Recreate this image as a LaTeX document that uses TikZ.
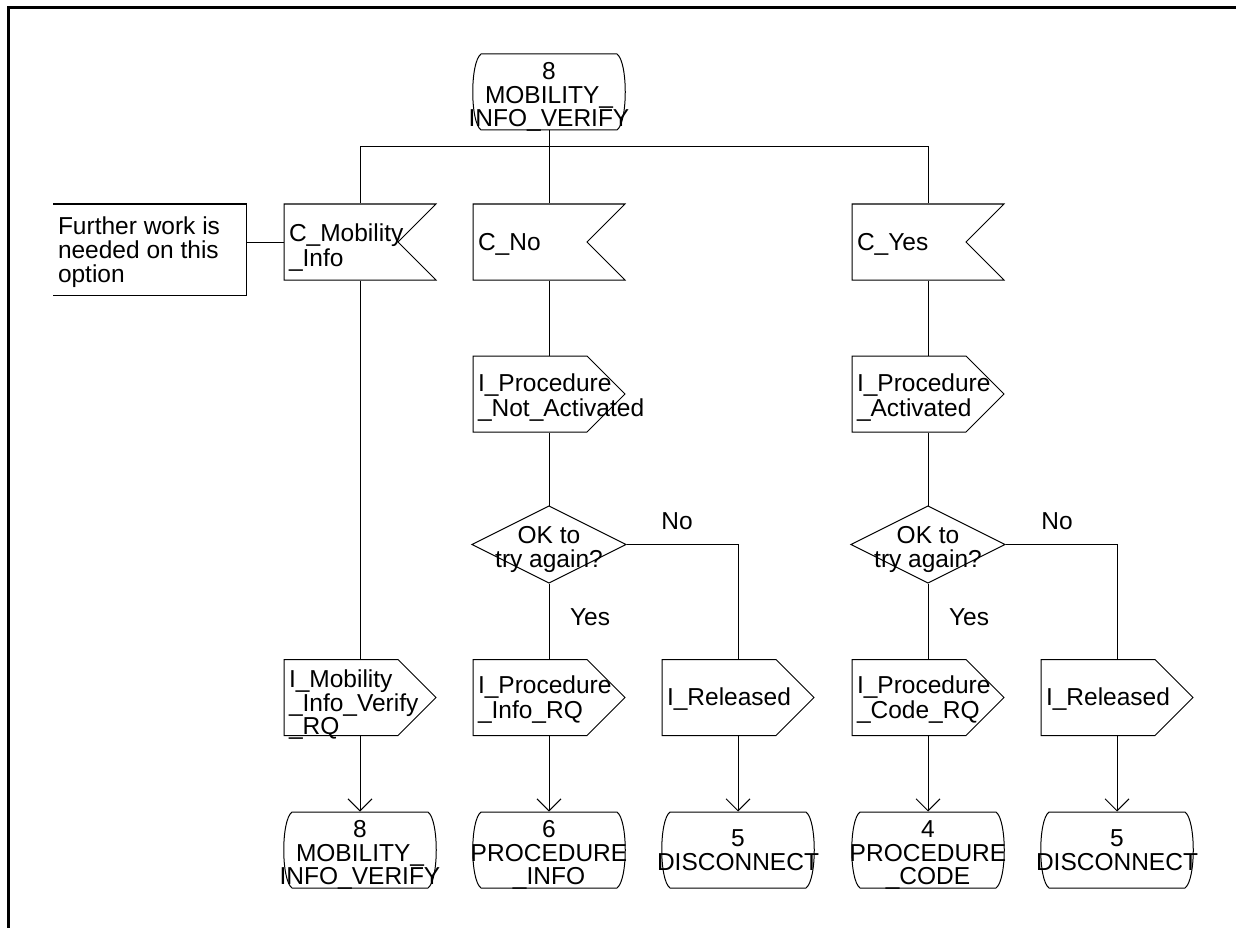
\documentclass[tikz,border=0pt]{standalone}
\usepackage{fontspec}
\setmainfont{Liberation Sans}
\usetikzlibrary{arrows.meta}

% SDL symbol outlines, drawn around a named node's centre
\newcommand\sdlstate[1]{\draw[shift={(#1.center)}] (-68,-38) -- (68,-38)
  .. controls (79,-30) and (79,30) .. (68,38) -- (-68,38)
  .. controls (-79,30) and (-79,-30) .. (-68,-38) -- cycle;}
\newcommand\sdlinput[1]{\draw[shift={(#1.center)}] (-76,-38) -- (76,-38) -- (38,0) -- (76,38) -- (-76,38) -- cycle;}
\newcommand\sdloutput[1]{\draw[shift={(#1.center)}] (-76,-38) -- (38,-38) -- (76,0) -- (38,38) -- (-76,38) -- cycle;}
\newcommand\sdldecision[1]{\draw[shift={(#1.center)}] (0,-38.5) -- (77,0) -- (0,38.5) -- (-77,0) -- cycle;}
\newcommand\sdlcomment[1]{\draw[shift={(#1.center)}] (-96.5,-45.5) -- (96.5,-45.5) -- (96.5,45.5) -- (-96.5,45.5);}

% symbol text: alignment (l/c), box width, downward offset, lines
\newcommand\sdltext[4]{\raisebox{-#3pt}[0pt][0pt]{\makebox[#2pt][#1]{\begin{tabular}{@{}#1@{}}#4\end{tabular}}}}

\begin{document}
\begin{tikzpicture}[x=1pt,y=-1pt,line width=1pt,
  font=\fontsize{24.5}{21}\selectfont,
  lbl/.style={inner ysep=0pt,inner xsep=5pt,minimum width=152pt,minimum height=76pt},
  ctr/.style={inner sep=0pt,minimum width=152pt,minimum height=76pt},
  dec/.style={inner sep=0pt,minimum width=154pt,minimum height=77pt},
  tag/.style={inner sep=0pt},
  arr/.style={-{Straight Barb[length=12pt,width=24pt]}}]
\useasboundingbox (0,0) rectangle (1236,928);

% page frame
\draw[line width=3pt] (8,935) -- (8,8) -- (1245,8);

% start state and branch
\node[ctr] (s0) at (549,92) {\sdltext{c}{152}{12}{8\\MOBILITY\_\\INFO\_VERIFY}};
\coordinate (br) at (549,147);

% inputs
\node[lbl] (in1) at (360,242) {\sdltext{l}{142}{12.5}{C\_Mobility\\\_Info}};
\node[lbl] (in2) at (549,242) {\sdltext{l}{142}{9}{C\_No}};
\node[lbl] (in3) at (928,242) {\sdltext{l}{142}{9}{C\_Yes}};
\node[lbl,minimum width=193pt,minimum height=91pt] (note) at (149.5,249.5)
  {\sdltext{l}{183}{9.5}{Further work is\\needed on this\\option}};

% first outputs
\node[lbl] (p2) at (549,394) {\sdltext{l}{142}{10.5}{I\_Procedure\\\_Not\_Activated}};
\node[lbl] (p3) at (928,394) {\sdltext{l}{142}{10.5}{I\_Procedure\\\_Activated}};

% decisions
\node[dec] (d2) at (549,544.5) {\sdltext{c}{154}{12}{OK to\\try again?}};
\node[dec] (d3) at (928,544.5) {\sdltext{c}{154}{12}{OK to\\try again?}};
\node[tag] (no2) at (677,521) {No};
\node[tag] (yes2) at (590,617) {Yes};
\node[tag] (no3) at (1057,521) {No};
\node[tag] (yes3) at (969,617) {Yes};

% second outputs
\node[lbl] (o1) at (360,697.5) {\sdltext{l}{142}{14}{I\_Mobility\\\_Info\_Verify\\\_RQ}};
\node[lbl] (o2) at (549,697.5) {\sdltext{l}{142}{9}{I\_Procedure\\\_Info\_RQ}};
\node[lbl] (o4) at (738,697.5) {\sdltext{l}{142}{8}{I\_Released}};
\node[lbl] (o3) at (928,697.5) {\sdltext{l}{142}{9}{I\_Procedure\\\_Code\_RQ}};
\node[lbl] (o5) at (1117,697.5) {\sdltext{l}{142}{8}{I\_Released}};

% next states
\node[ctr] (t1) at (360,850) {\sdltext{c}{152}{12}{8\\MOBILITY\_\\INFO\_VERIFY}};
\node[ctr] (t2) at (549,850) {\sdltext{c}{152}{12}{6\\PROCEDURE\\\_INFO}};
\node[ctr] (t4) at (738,850) {\sdltext{c}{152}{9.5}{5\\DISCONNECT}};
\node[ctr] (t3) at (928,850) {\sdltext{c}{152}{12}{4\\PROCEDURE\\\_CODE}};
\node[ctr] (t5) at (1117,850) {\sdltext{c}{152}{9.5}{5\\DISCONNECT}};

% outlines
\sdlstate{s0}
\sdlinput{in1}\sdlinput{in2}\sdlinput{in3}
\sdlcomment{note}
\sdloutput{p2}\sdloutput{p3}
\sdldecision{d2}\sdldecision{d3}
\sdloutput{o1}\sdloutput{o2}\sdloutput{o3}\sdloutput{o4}\sdloutput{o5}
\sdlstate{t1}\sdlstate{t2}\sdlstate{t3}\sdlstate{t4}\sdlstate{t5}

% flow lines
\draw (s0.south) -- (in2.north);
\draw (in1.north) -- (in1.north |- br) -- (in3.north |- br) -- (in3.north);
\draw (in1.west) -- (in1.west -| note.east);

\draw (in1.south) -- (o1.north);
\draw[arr] (o1.south) -- (t1.north);

\draw (in2.south) -- (p2.north);
\draw (p2.south) -- (d2.north);
\draw (d2.south) -- (o2.north);
\draw[arr] (o2.south) -- (t2.north);
\draw (d2.east) -- (d2.east -| o4.north) -- (o4.north);
\draw[arr] (o4.south) -- (t4.north);

\draw (in3.south) -- (p3.north);
\draw (p3.south) -- (d3.north);
\draw (d3.south) -- (o3.north);
\draw[arr] (o3.south) -- (t3.north);
\draw (d3.east) -- (d3.east -| o5.north) -- (o5.north);
\draw[arr] (o5.south) -- (t5.north);
\end{tikzpicture}
\end{document}
